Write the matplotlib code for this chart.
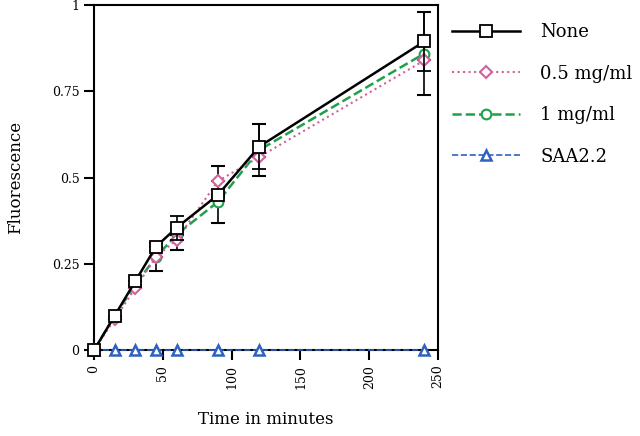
import matplotlib
matplotlib.use("Agg")
import matplotlib.pyplot as plt
from matplotlib.lines import Line2D

plt.rcParams['font.family'] = ['DejaVu Serif']

# data
minutes = [0, 15, 30, 45, 60, 90, 120, 240]
none_vals = [0, 0.10, 0.20, 0.30, 0.355, 0.45, 0.59, 0.895]
none_err = [0, 0, 0, 0, 0.035, 0, 0.065, 0.085]
half_vals = [0, 0.09, 0.18, 0.27, 0.32, 0.49, 0.56, 0.84]
half_err = [0, 0, 0, 0, 0.03, 0.045, 0, 0]
one_vals = [0, 0.10, 0.19, 0.27, 0.335, 0.43, 0.58, 0.86]
one_err = [0, 0, 0, 0.04, 0, 0.06, 0.075, 0.12]
saa_vals = [0, 0, 0, 0, 0, 0, 0, 0]
labels = ['None', '0.5 mg/ml', '1 mg/ml', 'SAA2.2']

fig = plt.figure(figsize=(6.4, 4.36), dpi=100)
ax = fig.add_axes([0.147, 0.197, 0.5375, 0.791])

err_kw = dict(ecolor='black', elinewidth=1.2, capsize=5, capthick=1.2, clip_on=False)

blue = dict(color='#2f62c0', ls='--', lw=1.2, marker='^', ms=7,
            mfc='white', mec='#2f62c0', mew=1.8)
green = dict(color='#1fa04a', ls='--', lw=1.8, marker='o', ms=7,
             mfc='white', mec='#1fa04a', mew=1.5)
pink = dict(color='#d2609c', ls=':', lw=1.5, marker='D', ms=6,
            mfc='white', mec='#d2609c', mew=1.5)
black = dict(color='black', ls='-', lw=1.8, marker='s', ms=8.5,
             mfc='white', mec='black', mew=1.3)

ax.plot(minutes, saa_vals, clip_on=False, zorder=3, **blue)
ax.errorbar(minutes, one_vals, yerr=one_err, zorder=4, **green, **err_kw)
ax.errorbar(minutes, half_vals, yerr=half_err, zorder=5, **pink, **err_kw)
ax.errorbar(minutes, none_vals, yerr=none_err, zorder=6, **black, **err_kw)

ax.set_xlim(0, 250)
ax.set_ylim(0, 1)
ax.set_xticks([0, 50, 100, 150, 200, 250])
ax.set_yticks([0, 0.25, 0.5, 0.75, 1])
ax.set_yticklabels(['0', '0.25', '0.5', '0.75', '1'])
ax.tick_params(direction='out', length=7, width=1.5, labelsize=9)
ax.tick_params(axis='x', labelrotation=90)
for s in ax.spines.values():
    s.set_linewidth(1.5)

ax.set_xlabel('Time in minutes', fontsize=12, labelpad=16)
ax.set_ylabel('Fluorescence', fontsize=12, labelpad=20)

# legend without error bars
handles = [Line2D([], [], **black), Line2D([], [], **pink),
           Line2D([], [], **green), Line2D([], [], **blue)]
fig.legend(handles, labels, loc='upper left', bbox_to_anchor=(0.706, 0.947),
           frameon=False, fontsize=13, handlelength=3.8, labelspacing=1.3,
           handletextpad=1.1, borderpad=0, borderaxespad=0)

fig.savefig('out.png', dpi=100)
